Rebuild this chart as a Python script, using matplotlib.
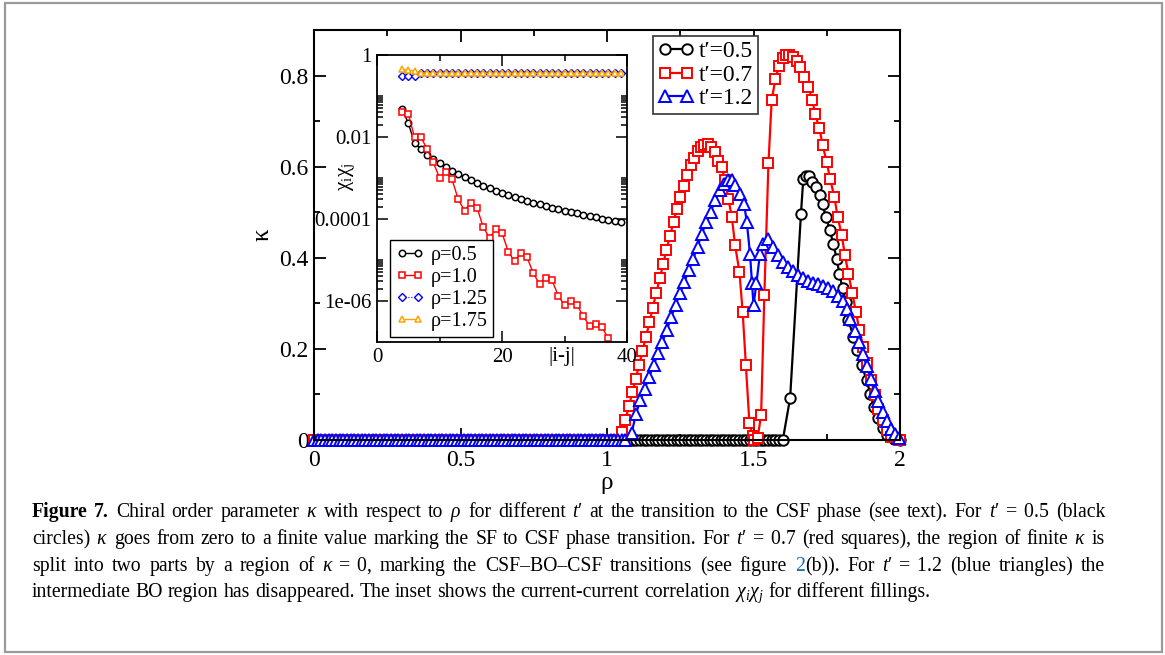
import numpy as np
import matplotlib
matplotlib.use("Agg")
import matplotlib.pyplot as plt
from matplotlib.ticker import FixedLocator, NullFormatter
from matplotlib.patches import Rectangle

plt.rcParams['font.family'] = ['Liberation Serif', 'DejaVu Serif']
plt.rcParams['mathtext.fontset'] = 'custom'
plt.rcParams['mathtext.rm'] = 'Liberation Serif'
plt.rcParams['mathtext.it'] = 'Liberation Serif:italic'
plt.rcParams['mathtext.bf'] = 'Liberation Serif:bold'

# ---------------- main panel data: kappa vs rho ----------------
# t'=0.5 (black circles): zero up to rho~1.61, then a single dome
rho05_zero_end = 1.61
rho05 = [1.625, 1.662, 1.670, 1.678, 1.690, 1.701, 1.713, 1.727, 1.736, 1.747,
         1.761, 1.772, 1.784, 1.793, 1.804, 1.816, 1.824, 1.841, 1.852, 1.869,
         1.886, 1.898, 1.911, 1.926, 1.941, 1.957, 1.980, 2.000]
kap05 = [0.092, 0.497, 0.574, 0.579, 0.579, 0.566, 0.556, 0.537, 0.517, 0.490,
         0.460, 0.431, 0.398, 0.365, 0.333, 0.303, 0.263, 0.227, 0.197, 0.164,
         0.132, 0.102, 0.073, 0.048, 0.026, 0.011, 0.003, 0.000]

# t'=0.7 (red squares): two domes separated by kappa=0 around rho=1.5
rho07_zero_end = 1.04
rho07 = [1.052, 1.063, 1.075, 1.087, 1.098, 1.110, 1.121, 1.133, 1.145, 1.156,
         1.168, 1.180, 1.192, 1.203, 1.215, 1.227, 1.238, 1.250, 1.262, 1.273,
         1.285, 1.297, 1.309, 1.320, 1.332, 1.344, 1.356, 1.367, 1.379, 1.391,
         1.403, 1.414, 1.426, 1.437, 1.452, 1.463, 1.474, 1.486, 1.497, 1.503,
         1.514, 1.526, 1.537, 1.551, 1.562, 1.575, 1.587, 1.599, 1.611, 1.622,
         1.634, 1.647, 1.659, 1.672, 1.687, 1.701, 1.710, 1.725, 1.736, 1.750,
         1.761, 1.776, 1.787, 1.801, 1.812, 1.824, 1.837, 1.850, 1.861, 1.875,
         1.886, 1.900, 1.915, 1.926, 1.941, 1.954, 1.970, 2.000]
kap07 = [0.018, 0.045, 0.075, 0.105, 0.135, 0.165, 0.195, 0.226, 0.258, 0.290,
         0.322, 0.355, 0.387, 0.418, 0.448, 0.478, 0.506, 0.533, 0.558, 0.582,
         0.603, 0.620, 0.634, 0.643, 0.648, 0.649, 0.644, 0.632, 0.612, 0.600,
         0.570, 0.530, 0.490, 0.428, 0.369, 0.281, 0.164, 0.037, 0.008, 0.000,
         0.004, 0.055, 0.318, 0.607, 0.746, 0.793, 0.822, 0.838, 0.845, 0.846,
         0.841, 0.833, 0.819, 0.797, 0.775, 0.746, 0.716, 0.684, 0.647, 0.610,
         0.574, 0.534, 0.490, 0.450, 0.406, 0.365, 0.322, 0.281, 0.241, 0.205,
         0.168, 0.132, 0.099, 0.069, 0.044, 0.022, 0.007, 0.000]

# t'=1.2 (blue triangles): dome with a dip near rho=1.5 and a shoulder
rho12_zero_end = 1.07
rho12 = [1.084, 1.099, 1.114, 1.129, 1.144, 1.159, 1.174, 1.189, 1.204, 1.219,
         1.234, 1.249, 1.264, 1.279, 1.294, 1.309, 1.324, 1.339, 1.354, 1.369,
         1.384, 1.399, 1.414, 1.425, 1.437, 1.454, 1.468, 1.477, 1.488, 1.495,
         1.500, 1.510, 1.522, 1.532, 1.551, 1.568, 1.585, 1.602, 1.619, 1.636,
         1.653, 1.670, 1.687, 1.704, 1.721, 1.738, 1.755, 1.772, 1.789, 1.806,
         1.819, 1.831, 1.846, 1.860, 1.874, 1.886, 1.900, 1.915, 1.926, 1.941,
         1.954, 1.968, 1.983, 1.997]
kap12 = [0.015, 0.058, 0.088, 0.113, 0.139, 0.164, 0.190, 0.216, 0.241, 0.270,
         0.296, 0.322, 0.347, 0.373, 0.398, 0.424, 0.453, 0.479, 0.501, 0.526,
         0.548, 0.563, 0.570, 0.570, 0.559, 0.540, 0.518, 0.479, 0.409, 0.344,
         0.296, 0.344, 0.409, 0.430, 0.442, 0.424, 0.406, 0.391, 0.380, 0.370,
         0.363, 0.355, 0.348, 0.345, 0.342, 0.338, 0.334, 0.327, 0.316, 0.305,
         0.287, 0.265, 0.240, 0.215, 0.189, 0.163, 0.134, 0.108, 0.086, 0.061,
         0.042, 0.024, 0.013, 0.004]

zero_step = 0.0125  # spacing of the kappa=0 points

# ---------------- inset data: chi_i chi_j vs |i-j| ----------------
dist = list(range(4, 40))
corr_05 = [4.9e-2, 2.2e-2, 7.1e-3, 5.1e-3, 3.7e-3, 2.9e-3, 2.35e-3, 1.86e-3, 1.50e-3, 1.24e-3,
           1.03e-3, 8.7e-4, 7.4e-4, 6.4e-4, 5.6e-4, 4.9e-4, 4.3e-4, 3.85e-4, 3.43e-4, 3.08e-4,
           2.77e-4, 2.51e-4, 2.28e-4, 2.08e-4, 1.90e-4, 1.75e-4, 1.61e-4, 1.48e-4, 1.37e-4, 1.27e-4,
           1.18e-4, 1.10e-4, 1.02e-4, 9.6e-5, 9.0e-5, 8.5e-5]
dist_10 = list(range(4, 38))
corr_10 = [4.1e-2, 3.7e-2, 1.0e-2, 1.02e-2, 5.1e-3, 2.4e-3, 1.02e-3, 1.38e-3, 9.3e-4, 3.0e-4,
           1.6e-4, 2.5e-4, 1.9e-4, 6.3e-5, 3.5e-5, 5.6e-5, 4.6e-5, 1.6e-5, 9.3e-6, 1.45e-5,
           1.17e-5, 4.8e-6, 2.6e-6, 3.6e-6, 3.2e-6, 1.35e-6, 7.8e-7, 9.8e-7, 8.1e-7, 4.2e-7,
           2.5e-7, 2.7e-7, 2.3e-7, 1.23e-7]
corr_125 = [0.305, 0.305, 0.305] + [0.36] * 33
corr_175 = [0.45, 0.43, 0.41, 0.37] + [0.36] * 32

# ---------------- figure ----------------
W, H = 1165, 655
fig = plt.figure(figsize=(W / 100, H / 100), dpi=100)


def box(l, t, r, b):
    return [l / W, 1 - b / H, (r - l) / W, (b - t) / H]


ax = fig.add_axes(box(314, 30, 900, 440))

series = [(rho05_zero_end, rho05, kap05, 'o', 'black', 7.5, "t′=0.5"),
          (rho07_zero_end, rho07, kap07, 's', 'red', 6.8, "t′=0.7"),
          (rho12_zero_end, rho12, kap12, '^', 'blue', 8.5, "t′=1.2")]
for zend, rr, kk, m, c, ms, lab in series:
    r0 = np.arange(0, zend + 1e-9, zero_step)
    x = np.concatenate([r0, rr])
    y = np.concatenate([np.zeros(len(r0)), kk])
    ax.plot(x, y, '-', marker=m, color=c, mfc='white', mec=c, ms=ms, mew=1.4,
            lw=1.6, label=lab, clip_on=False)

ax.set_xlim(0, 2)
ax.set_ylim(0, 0.9)
ax.xaxis.set_major_locator(FixedLocator([0, 0.5, 1, 1.5, 2]))
ax.xaxis.set_minor_locator(FixedLocator([0.25, 0.75, 1.25, 1.75]))
ax.yaxis.set_major_locator(FixedLocator([0, 0.2, 0.4, 0.6, 0.8]))
ax.yaxis.set_minor_locator(FixedLocator([0.1, 0.3, 0.5, 0.7, 0.9]))
ax.set_xticklabels(['0', '0.5', '1', '1.5', '2'])
ax.set_yticklabels(['0', '0.2', '0.4', '0.6', '0.8'])
ax.tick_params(which='both', direction='in', top=True, right=True, width=1.3)
ax.tick_params(which='major', length=8.5, labelsize=17)
ax.tick_params(which='minor', length=4)
ax.tick_params(axis='x', pad=7)
ax.tick_params(axis='y', pad=4)
for s in ax.spines.values():
    s.set_linewidth(1.5)
ax.set_xlabel('ρ', fontsize=18, labelpad=1)
ax.set_ylabel('κ', fontsize=18, labelpad=4)

leg = ax.legend(loc='upper left', bbox_to_anchor=(0.5785, 0.985), borderaxespad=0,
                numpoints=2, fontsize=17, handlelength=1.55, handletextpad=0.2,
                labelspacing=0.08, borderpad=0.2, fancybox=False, framealpha=1,
                edgecolor='#333333')
leg.get_frame().set_linewidth(1.2)

# ---------------- inset ----------------
axin = fig.add_axes(box(377, 55, 627, 342))
axin.set_yscale('log')
axin.plot(dist, corr_05, '-o', color='black', mfc='white', ms=4.6, mew=1.1, lw=1.0,
          label='ρ=0.5')
axin.plot(dist_10, corr_10, '-s', color='red', mfc='white', ms=5.0, mew=1.1, lw=1.0,
          label='ρ=1.0')
axin.plot(dist, corr_125, '-D', color='blue', mfc='white', ms=3.6, mew=1.0, lw=0.8,
          ls=':', label='ρ=1.25')
axin.plot(dist, corr_175, '-^', color='orange', mfc='white', ms=5.0, mew=1.1, lw=1.0,
          label='ρ=1.75')
axin.set_xlim(0, 40)
axin.set_ylim(1e-7, 1)
axin.xaxis.set_major_locator(FixedLocator([0, 20, 40]))
axin.xaxis.set_minor_locator(FixedLocator([10, 30]))
axin.yaxis.set_major_locator(FixedLocator([1e-6, 1e-4, 1e-2, 1]))
axin.yaxis.set_minor_locator(FixedLocator([k * 10.0 ** e for e in (-6, -4, -2)
                                            for k in range(2, 11)]))
axin.yaxis.set_minor_formatter(NullFormatter())
axin.set_xticklabels(['0', '20', '40'])
axin.set_yticklabels(['1e-06', '0.0001', '0.01', '1'])
axin.tick_params(which='both', direction='in', top=True, right=True, width=1.1)
axin.tick_params(which='major', length=8, labelsize=15, pad=4)
axin.tick_params(which='minor', length=4.5)
for s in axin.spines.values():
    s.set_linewidth(1.3)
fig.text(562 / W, 1 - 357 / H, '|i-j|', fontsize=15, ha='center', va='center')
fig.text(347 / W, 1 - 177 / H, 'χ$_\\mathrm{i}$χ$_\\mathrm{j}$', fontsize=15,
         rotation=90, ha='center', va='center')
lin = axin.legend(loc='lower left', bbox_to_anchor=(0.052, 0.017), borderaxespad=0,
                  numpoints=2, fontsize=14.5, handlelength=1.4, handletextpad=0.3,
                  labelspacing=0.15, borderpad=0.3, fancybox=False, framealpha=1,
                  edgecolor='black')
lin.get_frame().set_linewidth(1.0)

# ---------------- caption ----------------
blue_link = {'color': '#1f6fb5'}
bold = {'fontweight': 'bold'}
caption = [
    (True, [[('Figure', bold)], [('7.', bold)], 'Chiral', 'order', 'parameter', r'$\kappa$', 'with',
            'respect', 'to', r'$\rho$', 'for', 'different', r"$t$′", 'at', 'the', 'transition',
            'to', 'the', 'CSF', 'phase', '(see', 'text).', 'For', r"$t$′$\;=\;0.5$", '(black']),
    (True, ['circles)', r'$\kappa$', 'goes', 'from', 'zero', 'to', 'a', 'finite', 'value', 'marking',
            'the', 'SF', 'to', 'CSF', 'phase', 'transition.', 'For', r"$t$′$\;=\;0.7$", '(red',
            'squares),', 'the', 'region', 'of', 'finite', r'$\kappa$', 'is']),
    (True, ['split', 'into', 'two', 'parts', 'by', 'a', 'region', 'of', r'$\kappa\;=\;0$,', 'marking',
            'the', 'CSF–BO–CSF', 'transitions', '(see', 'figure',
            [('2', blue_link), ('(b)).', {})], 'For', r"$t$′$\;=\;1.2$", '(blue', 'triangles)',
            'the']),
    (False, ['intermediate', 'BO', 'region', 'has', 'disappeared.', 'The', 'inset', 'shows', 'the',
             'current-current', 'correlation', r'$\chi_i\chi_j$', 'for', 'different', 'fillings.']),
]
cap_size = 14.2
cap_x0, cap_x1 = 32, 1105
baselines = [517, 544, 571, 597]
renderer = fig.canvas.get_renderer()
space = cap_size * 100 / 72 * 0.25
for (justify, tokens), yb in zip(caption, baselines):
    objs = []
    widths = []
    for tok in tokens:
        pieces = tok if isinstance(tok, list) else [(tok, {})]
        group = []
        wsum = 0
        for s, kw in pieces:
            t = fig.text(0, 1 - yb / H, s, fontsize=cap_size, va='baseline', ha='left', **kw)
            w = t.get_window_extent(renderer).width
            group.append((t, w))
            wsum += w
        objs.append(group)
        widths.append(wsum)
    if justify:
        gap = (cap_x1 - cap_x0 - sum(widths)) / (len(tokens) - 1)
    else:
        gap = space
    x = cap_x0
    for group, w in zip(objs, widths):
        xx = x
        for t, pw in group:
            t.set_x(xx / W)
            xx += pw
        x += w + gap

fig.add_artist(Rectangle((5 / W, 1 - 652 / H), (1162 - 5) / W, (652 - 3) / H,
                         transform=fig.transFigure, fill=False, edgecolor='#9a9a9a', lw=1.6))

fig.savefig('out.png', dpi=100)
